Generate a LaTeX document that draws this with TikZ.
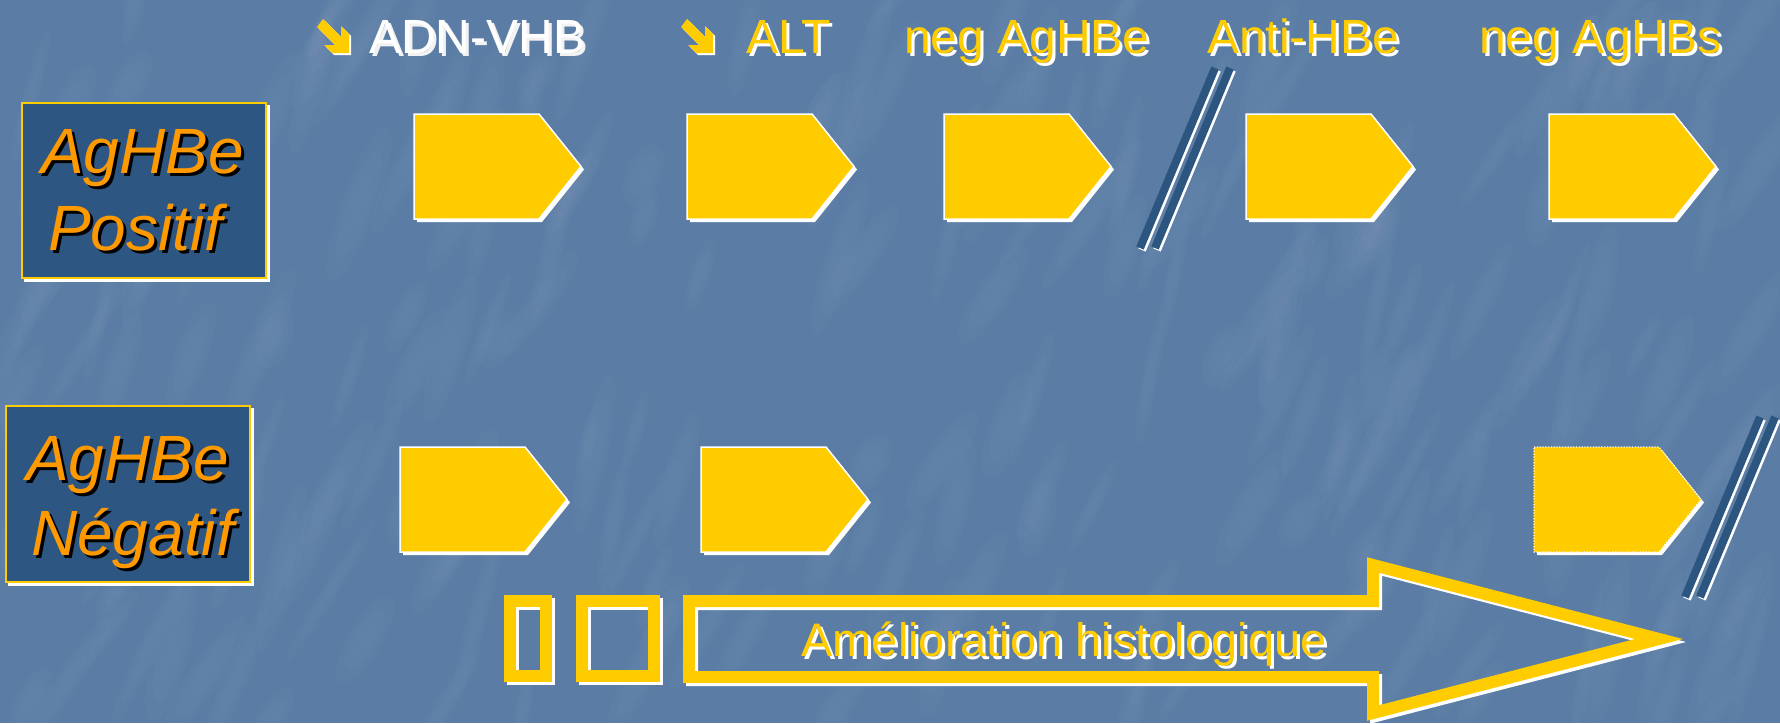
\documentclass[tikz,border=0pt]{standalone}
\usepackage{fontspec}
\setmainfont{Liberation Sans}
\definecolor{paperblue}{HTML}{5B7DA5}
\definecolor{panelblue}{HTML}{2E5682}
\definecolor{strokeblue}{HTML}{2C5680}
\definecolor{signyellow}{HTML}{FFCC00}
\definecolor{titleorange}{HTML}{FF9900}
\definecolor{softwhite}{HTML}{F2F2F2}

% text with an offset copy underneath: #1 style, #2 position, #3 name, #4 colour, #5 shadow colour, #6 text
\newcommand\shadowlabel[6]{%
  \node[#1, text=#5, xshift=3pt, yshift=-3pt] at (#2) {#6};
  \node[#1, text=#4] (#3) at (#2) {#6};
}

\tikzset{
  headlabel/.style={font=\fontsize{48}{58}\selectfont, inner sep=0pt, anchor=base west},
  paneltitle/.style={font=\fontsize{64}{76}\selectfont\itshape, inner sep=0pt, anchor=base west},
  bannerlabel/.style={font=\fontsize{47}{56}\selectfont, inner sep=0pt, anchor=base},
  tagoutline/.style={draw=white, line width=1.5pt},
  % pentagonal tag, origin at its top-left corner
  signtag/.pic={
    \fill[white] (3,3) -- (128,3) -- (170,55.5) -- (128,108) -- (3,108) -- cycle;
    \filldraw[fill=signyellow, tagoutline] (0,0) -- (125,0) -- (167,52.5) -- (125,105) -- (0,105) -- cycle;
  },
  signtagdotted/.pic={
    \fill[white] (3,3) -- (128,3) -- (170,55.5) -- (128,108) -- (3,108) -- cycle;
    \filldraw[fill=signyellow, tagoutline, line width=1.2pt, dash pattern=on 1.2pt off 1.6pt] (0,0) -- (125,0) -- (167,52.5) -- (125,105) -- (0,105) -- cycle;
  },
  % double slash break mark
  breakmark/.pic={
    \foreach \dx in {0,15}{
      \draw[white, line width=8pt] (\dx+2,182) -- (\dx+77,2);
      \draw[strokeblue, line width=8pt] (\dx,180) -- (\dx+75,0);
    }
  },
  % heavy south-east arrow bullet
  sebullet/.pic={
    \foreach \s/\c in {2/white, 0/signyellow}{
      \fill[\c, shift={(\s,\s)}] (6,0) -- (24,18) -- (24,7) -- (32,15) -- (32,34) -- (15,34)
        -- (7,26) -- (18,26) -- (0,8) -- cycle;
    }
  },
  panelbox/.style={fill=panelblue, draw=signyellow, line width=2.5pt},
  panelshadow/.style={fill=white, draw=white, line width=2.5pt},
  bannerstroke/.style={line width=12pt, line join=miter, miter limit=10},
  grain/.style={white, opacity=0.014},
}

\begin{document}
\begin{tikzpicture}[x=1pt, y=-1pt]
  \fill[paperblue] (0,0) rectangle (1780,723);
  \useasboundingbox (0,0) rectangle (1780,723);

  % soft tissue-paper mottling, each patch fading towards its rim
  \pgfmathsetseed{4217}
  \foreach \i in {1,...,240}{
    \pgfmathsetmacro\gx{random(0,1780)}
    \pgfmathsetmacro\gy{random(0,723)}
    \pgfmathsetmacro\gl{random(30,90)}
    \pgfmathsetmacro\gw{random(8,18)}
    \pgfmathsetmacro\ga{random(55,80)}
    \foreach \k in {1,0.7,0.4}{
      \fill[grain] (\gx,\gy) ellipse[x radius=\k*\gl, y radius=\k*\gw, rotate=\ga];
    }
  }

  % row panels
  \filldraw[panelshadow] (25,106) rectangle (269,281);
  \filldraw[panelbox] (22,103) rectangle (266,278);
  \filldraw[panelshadow] (9,409) rectangle (253,585);
  \filldraw[panelbox] (6,406) rectangle (250,582);

  \shadowlabel{paneltitle}{41,173}{posA}{titleorange}{black}{AgHBe}
  \shadowlabel{paneltitle}{48,250}{posB}{titleorange}{black}{Positif}
  \shadowlabel{paneltitle}{26,480}{negA}{titleorange}{black}{AgHBe}
  \shadowlabel{paneltitle}{31,555}{negB}{titleorange}{black}{Négatif}

  % column headings
  \pic (bulletA) at (317,19) {sebullet};
  \pic (bulletB) at (681,19) {sebullet};
  \shadowlabel{headlabel}{369,53}{hdna}{white}{softwhite}{ADN-VHB}
  \shadowlabel{headlabel}{746,53}{halt}{signyellow}{white}{ALT}
  \shadowlabel{headlabel}{904,53}{hnegbe}{signyellow}{white}{neg AgHBe}
  \shadowlabel{headlabel}{1207,53}{hanti}{signyellow}{white}{Anti-HBe}
  \shadowlabel{headlabel}{1479,53}{hnegbs}{signyellow}{white}{neg AgHBs}

  % positive row
  \pic (p1) at (414,114) {signtag};
  \pic (p2) at (687,114) {signtag};
  \pic (p3) at (944,114) {signtag};
  \pic (p4) at (1246,114) {signtag};
  \pic (p5) at (1549,114) {signtag};
  \pic (breaktop) at (1140,68) {breakmark};

  % negative row
  \pic (n1) at (400,447) {signtag};
  \pic (n2) at (701,447) {signtag};
  \pic (n3) at (1534,447) {signtagdotted};
  \pic (breakbottom) at (1685,417) {breakmark};

  % histology banner
  \foreach \s/\c in {3/white, 0/signyellow}{
    \begin{scope}[shift={(\s,\s)}]
      \draw[\c, bannerstroke] (510,601) rectangle (546,676);
      \draw[\c, bannerstroke] (582,601) rectangle (654,676);
      \draw[\c, bannerstroke] (689,601) -- (1373,601) -- (1373,565) -- (1659,639)
        -- (1373,713) -- (1373,677) -- (689,677) -- cycle;
    \end{scope}
  }
  \shadowlabel{bannerlabel}{1064,656}{banner}{signyellow}{white}{Amélioration histologique}
\end{tikzpicture}
\end{document}
